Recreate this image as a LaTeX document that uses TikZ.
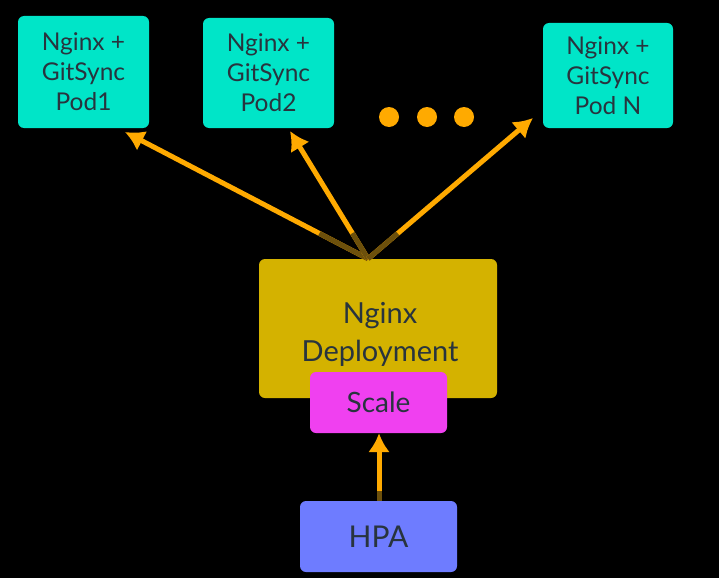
\documentclass[tikz,border=0pt]{standalone}
\usepackage{fontspec}
\setmainfont{Lato}
\usetikzlibrary{arrows.meta,calc}
\definecolor{Cy}{RGB}{0, 229, 200}
\definecolor{Am}{RGB}{212, 178, 0}
\definecolor{Mg}{RGB}{240, 64, 240}
\definecolor{Az}{RGB}{110, 124, 255}
\definecolor{Nj}{RGB}{255, 170, 0}
\definecolor{Os}{RGB}{108, 80, 12}
\definecolor{Tx}{RGB}{40, 52, 62}

\tikzset{
  caja/.style={rectangle, rounded corners=6pt, text=Tx, align=center, inner sep=0pt},
  pod/.style={caja, fill=Cy, font=\fontsize{24.5}{30}\selectfont},
  flecha/.style={Nj, line width=5pt, -{Latex[length=19pt,width=22pt]}}
}

\begin{document}
\begin{tikzpicture}[x=1pt,y=-1pt]
    \fill[black] (0,0) rectangle (719,578);
    \useasboundingbox (0,0) rectangle (719,578);

    %Pods de arriba
    \node[pod, minimum width=131pt, minimum height=112pt] (pod1) at (83.5,72) {Nginx +\\GitSync\\Pod1};
    \node[pod, minimum width=131pt, minimum height=110pt] (pod2) at (268.5,73) {Nginx +\\GitSync\\Pod2};
    \node[pod, minimum width=130pt, minimum height=105pt] (podN) at (608,75.5) {Nginx +\\GitSync\\Pod N};

    %Puntos suspensivos
    \foreach \x in {389,427,464}
        \fill[Nj] (\x,117) circle (10);

    %Deployment y Scale (Scale encima)
    \node[caja, fill=Am, minimum width=238pt, minimum height=139pt] (dep) at (378,328.5) {};
    \node[text=Tx, align=center, font=\fontsize{29}{38}\selectfont] (deptxt) at (380,334) {Nginx\\Deployment};
    \node[caja, fill=Mg, minimum width=137pt, minimum height=61pt,
          font=\fontsize{28}{34}\selectfont] (scale) at (378.5,402.5) {Scale};

    %HPA
    \node[caja, fill=Az, minimum width=157pt, minimum height=71pt,
          font=\fontsize{30}{36}\selectfont] (hpa) at (378.5,536.5) {HPA};

    %Flechas desde el deployment
    \coordinate (o) at ([xshift=-10pt]dep.north);
    \coordinate (t1) at (125,132);
    \coordinate (t2) at (290,131);
    \coordinate (tN) at (533,118);
    \foreach \t/\f in {t1/0.2, t2/0.2, tN/0.18}{
        \draw[flecha] (o) -- (\t);
        \draw[Os, line width=5pt] (o) -- ($(o)!\f!(\t)$);
    }

    %Flecha HPA a Scale
    \draw[flecha] ([xshift=0.5pt]hpa.north) -- ([xshift=0.5pt]scale.south);
    \draw[Os, line width=5pt] ([xshift=0.5pt]hpa.north) -- ++(0,-10);
\end{tikzpicture}
\end{document}
